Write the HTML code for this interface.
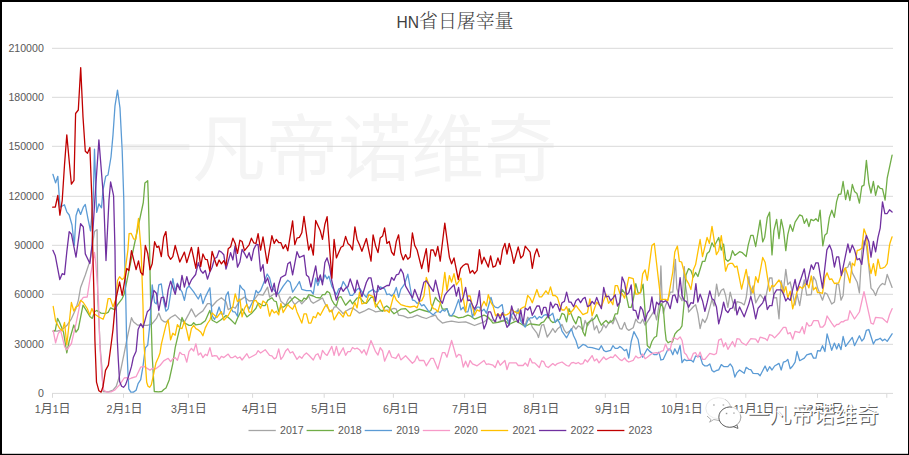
<!DOCTYPE html>
<html lang="zh"><head><meta charset="utf-8"><title>HN省日屠宰量</title>
<style>
html,body{margin:0;padding:0;background:#fff;}
body{width:909px;height:455px;overflow:hidden;}
svg{display:block;}
text{font-family:"Liberation Sans","Noto Sans CJK SC",sans-serif;}
.ax{font-size:10.6px;fill:#595959;}
.xl{font-size:12px;fill:#595959;}
.d{font-size:10.6px;}
.ln{fill:none;stroke-width:1.3;stroke-linejoin:round;stroke-linecap:round;}
.ttl{font-family:"Liberation Sans","Noto Serif CJK SC",serif;fill:#404040;}
.wm{font-family:"Noto Sans CJK SC","Liberation Sans",sans-serif;}
</style></head><body>
<svg width="909" height="455" viewBox="0 0 909 455">
<rect x="0" y="0" width="909" height="455" fill="#fff"/>
<text class="wm" x="119.3" y="175.2" font-size="73" fill="#f4f4f4" font-weight="400">一凡帝诺维奇</text>
<line x1="52" y1="393.4" x2="893" y2="393.4" stroke="#d9d9d9" stroke-width="1"/>
<text class="ax" x="43.8" y="397.2" text-anchor="end">0</text>
<line x1="52" y1="344.3" x2="893" y2="344.3" stroke="#d9d9d9" stroke-width="1"/>
<text class="ax" x="43.8" y="348.1" text-anchor="end">30000</text>
<line x1="52" y1="294.3" x2="893" y2="294.3" stroke="#d9d9d9" stroke-width="1"/>
<text class="ax" x="43.8" y="298.1" text-anchor="end">60000</text>
<line x1="52" y1="245.3" x2="893" y2="245.3" stroke="#d9d9d9" stroke-width="1"/>
<text class="ax" x="43.8" y="249.2" text-anchor="end">90000</text>
<line x1="52" y1="196.3" x2="893" y2="196.3" stroke="#d9d9d9" stroke-width="1"/>
<text class="ax" x="43.8" y="200.1" text-anchor="end">120000</text>
<line x1="52" y1="146.3" x2="893" y2="146.3" stroke="#d9d9d9" stroke-width="1"/>
<text class="ax" x="43.8" y="150.1" text-anchor="end">150000</text>
<line x1="52" y1="97.3" x2="893" y2="97.3" stroke="#d9d9d9" stroke-width="1"/>
<text class="ax" x="43.8" y="101.1" text-anchor="end">180000</text>
<line x1="52" y1="48.3" x2="893" y2="48.3" stroke="#d9d9d9" stroke-width="1"/>
<text class="ax" x="43.8" y="52.1" text-anchor="end">210000</text>
<line x1="52.5" y1="393.5" x2="52.5" y2="397.8" stroke="#d9d9d9" stroke-width="1"/>
<line x1="123.5" y1="393.5" x2="123.5" y2="397.8" stroke="#d9d9d9" stroke-width="1"/>
<line x1="188.4" y1="393.5" x2="188.4" y2="397.8" stroke="#d9d9d9" stroke-width="1"/>
<line x1="252.6" y1="393.5" x2="252.6" y2="397.8" stroke="#d9d9d9" stroke-width="1"/>
<line x1="324.2" y1="393.5" x2="324.2" y2="397.8" stroke="#d9d9d9" stroke-width="1"/>
<line x1="393.4" y1="393.5" x2="393.4" y2="397.8" stroke="#d9d9d9" stroke-width="1"/>
<line x1="464.6" y1="393.5" x2="464.6" y2="397.8" stroke="#d9d9d9" stroke-width="1"/>
<line x1="533.4" y1="393.5" x2="533.4" y2="397.8" stroke="#d9d9d9" stroke-width="1"/>
<line x1="605.3" y1="393.5" x2="605.3" y2="397.8" stroke="#d9d9d9" stroke-width="1"/>
<line x1="676.2" y1="393.5" x2="676.2" y2="397.8" stroke="#d9d9d9" stroke-width="1"/>
<line x1="745.8" y1="393.5" x2="745.8" y2="397.8" stroke="#d9d9d9" stroke-width="1"/>
<line x1="817.5" y1="393.5" x2="817.5" y2="397.8" stroke="#d9d9d9" stroke-width="1"/>
<line x1="886.8" y1="393.5" x2="886.8" y2="397.8" stroke="#d9d9d9" stroke-width="1"/>
<text class="xl" x="52.7" y="413.3" text-anchor="middle"><tspan class="d">1</tspan>月<tspan class="d">1</tspan>日</text>
<text class="xl" x="124.5" y="413.3" text-anchor="middle"><tspan class="d">2</tspan>月<tspan class="d">1</tspan>日</text>
<text class="xl" x="188.8" y="413.3" text-anchor="middle"><tspan class="d">3</tspan>月<tspan class="d">1</tspan>日</text>
<text class="xl" x="259.8" y="413.3" text-anchor="middle"><tspan class="d">4</tspan>月<tspan class="d">1</tspan>日</text>
<text class="xl" x="329.2" y="413.3" text-anchor="middle"><tspan class="d">5</tspan>月<tspan class="d">1</tspan>日</text>
<text class="xl" x="400.8" y="413.3" text-anchor="middle"><tspan class="d">6</tspan>月<tspan class="d">1</tspan>日</text>
<text class="xl" x="469.9" y="413.3" text-anchor="middle"><tspan class="d">7</tspan>月<tspan class="d">1</tspan>日</text>
<text class="xl" x="541.3" y="413.3" text-anchor="middle"><tspan class="d">8</tspan>月<tspan class="d">1</tspan>日</text>
<text class="xl" x="612.9" y="413.3" text-anchor="middle"><tspan class="d">9</tspan>月<tspan class="d">1</tspan>日</text>
<text class="xl" x="681.8" y="413.3" text-anchor="middle"><tspan class="d">10</tspan>月<tspan class="d">1</tspan>日</text>
<text class="xl" x="754.1" y="413.3" text-anchor="middle"><tspan class="d">11</tspan>月<tspan class="d">1</tspan>日</text>
<text class="xl" x="822.5" y="413.3" text-anchor="middle"><tspan class="d">12</tspan>月<tspan class="d">1</tspan>日</text>
<polyline class="ln" stroke="#A5A5A5" points="53.2,331.2 57.5,331.2 62.2,329.6 66.8,325.6 71.4,318.8 76.0,308.5 78.3,300.6 80.6,287.5 85.3,275.0 89.9,261.1 94.5,231.6 97.1,229.6 97.8,300.0 100.4,350.0 101.8,366.4 103.1,391.5 108.4,391.9 113.0,390.2 116.3,386.2 119.6,375.6 124.2,353.2 126.8,340.0 131.5,317.7 133.4,321.7 137.4,325.0 142.7,325.4 147.3,325.4 151.9,324.0 156.5,318.4 158.8,313.1 161.3,319.5 163.7,321.5 165.9,322.1 170.6,317.5 175.2,314.9 179.8,319.5 184.4,322.1 189.0,313.6 191.4,308.9 195.6,316.9 198.3,314.2 202.9,310.9 207.5,303.7 209.9,303.7 212.1,306.3 216.8,301.0 221.4,297.7 226.0,301.7 228.2,309.6 232.9,307.0 235.2,308.3 239.9,300.4 244.5,297.1 249.1,301.0 253.7,300.4 258.1,294.4 263.0,295.1 267.6,287.2 269.6,297.1 274.2,293.8 278.7,294.7 280.9,301.3 285.6,305.3 287.8,300.0 290.2,296.7 292.6,301.3 294.8,304.6 299.4,300.6 301.8,303.9 306.4,298.7 308.7,296.0 310.9,301.3 313.3,303.3 317.9,300.6 322.5,298.0 324.9,303.3 329.5,310.5 331.8,311.9 334.1,307.2 336.4,306.6 341.0,311.2 343.2,313.8 345.6,311.2 350.2,308.6 352.5,307.9 357.1,311.2 359.5,313.2 364.1,311.2 368.7,308.6 373.1,310.5 375.6,311.9 380.2,311.2 384.6,310.5 389.2,309.9 394.0,308.3 396.3,309.2 398.6,315.2 403.2,315.8 407.8,317.8 412.4,317.1 417.1,315.2 421.7,317.1 426.3,318.5 430.9,316.5 435.5,315.2 437.8,319.1 442.4,323.1 447.0,321.8 451.6,321.1 458.6,322.4 465.6,321.8 470.1,323.7 474.5,325.5 479.4,323.7 484.0,322.0 488.3,318.5 493.0,320.5 497.9,322.5 500.2,321.0 504.9,320.0 507.0,319.2 509.2,321.9 511.6,315.9 513.8,320.5 516.2,315.3 518.2,308.7 520.8,319.9 525.2,325.2 527.7,317.2 530.1,320.5 532.3,327.1 536.9,333.1 538.5,337.5 541.6,325.2 543.7,324.5 547.2,337.0 550.5,332.4 552.8,328.5 555.2,332.4 557.4,329.1 559.8,327.1 562.0,324.5 564.4,330.4 566.6,333.1 571.4,329.8 573.6,325.8 575.9,329.1 578.3,325.8 580.6,327.1 582.9,330.4 585.1,320.5 587.5,325.8 589.9,321.9 592.1,317.9 594.4,329.8 596.7,325.8 599.0,333.1 601.4,330.4 603.7,324.5 606.0,327.8 608.6,323.2 610.6,320.5 612.9,323.8 615.2,317.2 617.5,322.5 619.9,328.5 622.0,329.1 624.6,322.5 626.6,328.5 628.8,330.4 633.2,327.8 635.8,319.2 638.1,322.5 640.5,323.2 642.7,319.2 645.1,325.2 649.7,317.9 654.3,310.6 656.6,319.9 659.6,301.4 660.9,265.9 662.2,301.4 663.3,313.3 665.5,305.4 667.8,300.1 670.2,292.2 672.8,292.2 675.4,259.3 676.8,288.2 678.7,294.8 682.0,300.7 684.3,266.6 685.3,284.2 687.3,297.4 688.6,312.0 693.3,306.7 695.6,304.7 697.9,313.9 700.1,328.5 702.5,319.2 704.9,322.5 707.1,317.9 712.0,299.4 714.0,306.0 716.6,284.2 718.7,296.1 721.3,290.2 723.6,288.9 725.6,295.5 727.9,307.3 730.2,292.2 734.9,310.6 737.0,301.6 741.6,302.9 744.2,304.9 746.2,297.8 748.9,276.7 750.8,295.2 753.1,285.9 755.7,302.9 760.1,294.5 765.1,300.9 769.6,278.0 772.0,278.0 773.9,297.8 776.6,297.6 779.0,318.8 781.2,280.6 783.4,291.2 785.8,269.4 787.8,284.6 790.2,282.0 792.7,293.8 795.1,305.0 797.0,293.8 799.7,305.6 802.3,289.2 804.3,280.0 806.7,295.2 811.3,294.5 813.5,276.7 815.9,280.6 817.6,288.1 822.5,300.2 824.9,292.7 827.1,294.0 831.7,304.1 834.4,302.1 836.7,284.2 838.7,284.2 841.0,300.2 843.1,295.4 845.3,268.3 847.9,267.0 849.9,261.7 852.3,272.9 857.2,282.2 859.4,292.9 861.8,251.2 864.0,240.7 866.4,245.9 868.8,266.4 871.0,288.1 873.4,290.7 875.6,295.5 878.0,288.8 880.2,285.5 882.5,283.5 884.9,284.8 887.2,274.5 892.1,287.4"/>
<polyline class="ln" stroke="#70AD47" points="53.2,331.2 55.3,330.3 57.5,318.4 59.5,322.3 63.5,332.2 66.8,352.9 69.2,341.0 73.8,325.0 76.0,332.2 78.3,329.0 83.0,305.2 87.2,311.8 89.9,316.4 92.3,318.4 94.5,311.8 96.7,310.5 101.1,313.1 105.7,313.5 108.1,312.4 110.6,307.8 115.0,309.8 117.3,305.2 122.2,298.6 124.2,294.0 133.2,250.0 143.3,202.5 144.9,182.9 147.7,180.7 148.4,200.0 149.6,250.0 150.6,300.0 152.2,355.8 154.3,391.5 158.5,391.9 161.8,391.5 163.8,389.5 166.0,388.0 169.2,380.0 172.8,363.6 175.2,347.7 179.8,327.9 182.0,317.5 184.4,322.8 189.0,325.4 191.4,325.4 193.7,322.8 195.6,324.8 200.7,324.1 205.3,320.8 209.9,310.3 212.1,320.2 216.8,322.8 221.4,319.5 226.0,315.5 230.6,319.5 235.2,324.1 237.5,318.2 242.1,308.9 246.9,316.9 251.4,313.6 256.0,308.3 258.1,303.0 263.0,305.6 265.2,305.6 267.6,300.4 271.9,297.7 274.2,301.0 276.3,301.7 278.7,311.9 280.9,306.6 283.2,307.2 287.8,303.9 292.6,298.7 294.8,296.7 299.4,300.0 301.8,301.3 304.0,298.0 306.4,299.1 308.7,294.7 313.3,296.0 315.7,297.3 320.3,298.0 322.5,294.7 324.9,294.7 327.1,291.4 329.5,292.7 331.8,300.0 334.1,303.9 336.4,305.9 338.8,297.3 341.0,296.7 345.6,305.3 350.2,300.0 352.5,303.9 357.1,298.0 359.5,297.3 364.1,302.6 366.4,303.3 371.0,297.3 373.1,297.3 375.6,303.9 380.2,309.9 382.6,311.2 384.6,307.2 386.9,305.9 389.2,307.9 391.6,311.2 394.0,313.8 396.3,312.3 400.8,309.2 405.6,308.6 410.1,313.2 414.7,311.2 419.3,309.2 423.9,310.5 428.5,311.9 430.9,310.5 435.5,297.3 437.8,300.6 440.2,302.6 442.4,309.2 444.8,309.2 447.0,308.6 449.4,315.8 454.0,315.8 458.6,317.8 463.3,317.1 467.9,315.2 470.1,315.8 474.5,319.1 479.4,317.1 484.0,315.2 488.3,317.1 493.0,323.1 497.9,322.4 502.5,321.1 505.0,320.5 507.0,322.5 509.2,324.5 511.6,323.2 516.2,321.2 520.8,323.8 525.2,326.5 530.1,323.8 534.7,324.5 539.3,325.2 541.6,322.5 543.7,321.9 548.3,315.3 550.5,320.5 552.8,322.5 555.2,321.9 557.4,320.5 559.8,319.2 562.0,313.3 564.4,314.6 566.6,321.9 569.0,308.7 571.4,314.6 573.6,319.9 575.9,323.8 578.3,316.6 580.6,317.9 582.9,331.8 585.1,336.0 587.5,323.2 589.9,321.2 592.1,320.5 594.4,318.6 596.7,314.6 599.0,320.5 601.4,325.2 603.7,322.5 606.0,320.5 608.6,323.2 612.9,320.5 615.2,313.9 617.5,313.9 619.9,300.7 622.0,289.5 624.6,292.8 626.6,296.8 628.8,307.3 631.2,307.3 633.2,300.1 635.8,283.6 638.1,292.8 640.5,292.8 643.1,284.2 645.1,312.0 647.3,345.5 649.7,348.1 651.9,341.5 654.3,337.5 656.6,336.2 658.9,314.6 660.9,303.4 663.3,308.0 665.0,330.0 666.2,340.2 668.2,342.8 670.2,341.5 672.4,342.2 674.8,334.2 677.4,331.0 680.1,329.0 682.0,325.8 684.3,300.7 686.0,275.0 688.6,268.6 690.9,270.5 693.3,277.1 695.6,272.5 697.9,276.5 702.5,261.3 704.9,261.3 707.1,253.4 709.4,251.4 712.0,242.8 714.0,246.8 718.7,237.5 721.3,250.1 723.6,244.1 725.6,259.3 727.9,261.3 730.2,259.3 732.5,250.7 734.9,255.4 739.6,251.7 742.3,252.7 746.2,256.5 748.2,245.2 750.8,235.3 753.1,235.3 755.7,246.5 760.1,220.1 762.7,241.9 764.7,237.2 767.3,217.4 769.6,212.2 772.0,254.9 773.9,230.6 776.6,219.4 779.0,238.6 781.2,219.4 783.4,229.3 785.8,250.6 787.8,234.6 790.2,224.7 792.7,231.3 795.1,222.1 799.7,214.8 802.3,216.1 804.3,223.4 806.7,218.8 808.9,226.7 810.9,219.4 813.5,220.7 815.9,218.8 818.2,221.4 820.1,210.2 822.8,245.8 824.8,235.3 827.0,233.3 829.4,217.4 831.8,210.2 834.3,217.4 836.6,201.6 838.7,194.3 841.0,194.0 843.1,181.5 845.6,199.5 847.7,190.1 849.9,200.5 852.3,184.5 854.5,191.4 856.9,193.4 859.4,203.2 861.8,186.4 864.0,185.1 866.4,160.4 868.8,183.5 871.0,193.0 873.4,181.5 875.6,195.3 878.0,185.7 880.2,188.4 882.5,188.8 885.1,200.0 887.2,178.2 892.1,155.2"/>
<polyline class="ln" stroke="#5B9BD5" points="52.9,174.3 55.6,182.9 57.8,176.3 59.5,200.0 60.2,207.2 64.4,204.8 66.8,211.8 69.2,215.0 72.0,225.0 74.3,245.4 76.0,215.7 78.3,208.5 80.6,214.4 83.3,207.2 85.3,204.5 87.9,218.4 90.5,230.9 93.2,200.0 94.5,149.2 96.7,212.4 98.9,203.9 101.5,207.8 103.0,190.0 105.7,176.3 108.0,175.0 111.0,157.0 113.0,134.9 115.0,105.8 117.5,90.2 120.0,108.2 122.2,151.0 123.8,200.0 124.5,250.0 125.8,300.0 126.6,340.0 127.9,371.7 128.8,388.8 130.8,392.1 133.4,392.1 136.1,390.2 138.1,383.6 140.7,379.6 143.0,366.4 145.3,347.9 147.7,345.3 150.0,323.0 151.3,300.0 152.2,284.9 154.6,302.5 156.5,303.9 158.8,284.9 161.3,283.9 163.7,301.7 165.9,311.2 168.2,308.9 170.6,293.8 172.8,278.6 175.2,291.1 177.4,283.2 179.8,288.5 182.0,291.8 184.4,300.4 186.8,288.5 189.0,285.8 193.7,291.8 198.3,299.0 200.7,293.8 202.9,303.7 205.3,297.1 209.9,287.8 212.1,315.5 214.5,319.5 216.8,314.2 219.1,307.0 221.4,314.2 223.8,314.2 226.0,295.7 228.2,291.8 230.6,307.6 232.9,311.6 235.2,312.2 237.5,316.2 239.9,285.2 242.1,288.5 244.5,290.5 246.9,305.0 249.1,308.9 251.4,304.3 253.7,299.7 256.0,290.5 258.1,293.1 260.6,290.5 263.6,283.2 267.2,274.0 269.6,277.9 271.9,287.2 276.4,293.1 278.7,293.4 283.2,286.1 287.8,280.2 290.2,282.2 292.6,292.1 297.0,285.5 299.4,281.5 301.8,289.4 306.4,290.7 310.9,290.7 313.3,294.0 315.7,278.2 317.9,285.5 320.3,278.2 322.5,282.2 324.9,274.9 327.1,278.9 328.9,276.2 331.8,286.1 336.4,294.7 338.8,288.8 341.0,288.1 343.2,281.5 347.9,289.4 350.2,295.4 352.5,295.4 357.1,289.4 359.5,288.1 364.1,294.7 366.4,297.3 368.7,292.1 373.1,289.4 375.6,292.1 378.0,291.4 380.2,286.8 384.6,288.8 386.9,294.7 389.2,294.0 391.6,296.0 394.0,293.4 396.3,287.4 398.6,297.3 400.8,289.4 404.5,284.1 407.8,274.2 412.4,300.0 414.7,300.6 417.1,303.3 419.3,302.6 421.7,305.9 423.9,304.6 428.5,311.2 433.3,314.9 435.5,312.5 437.8,311.2 440.2,312.5 442.4,309.9 444.8,311.2 447.0,308.6 449.4,315.2 451.6,315.8 454.0,312.5 458.6,299.6 460.9,309.9 463.3,307.2 465.6,311.9 467.9,311.9 470.1,303.3 472.5,317.1 474.5,311.2 477.1,307.2 479.4,307.2 481.7,311.2 484.0,309.2 486.4,313.2 491.0,297.3 493.0,304.6 495.2,307.2 497.9,307.9 502.2,304.6 503.5,312.5 504.9,319.1 507.0,317.9 509.2,325.2 511.6,314.6 513.8,312.0 518.2,310.6 520.8,321.2 525.2,327.1 527.7,320.5 530.1,317.9 532.3,317.9 534.7,315.9 536.9,319.2 539.3,316.6 541.6,317.9 543.7,315.3 545.9,314.6 548.3,315.9 550.5,315.3 552.8,313.3 555.2,322.5 557.4,319.2 559.8,323.3 562.0,331.2 566.6,337.8 571.4,328.6 573.6,335.8 575.9,340.5 578.3,348.4 582.9,344.4 585.1,345.1 587.5,347.1 592.1,347.7 599.0,349.7 601.4,345.7 603.7,350.4 606.0,351.7 610.6,350.4 612.9,345.7 615.2,348.4 617.5,348.4 619.9,346.4 622.0,348.1 624.6,350.7 626.6,349.4 628.8,358.0 631.2,341.5 633.9,331.6 638.1,339.5 640.5,353.4 642.7,357.3 647.3,348.8 649.7,351.4 654.3,354.7 656.6,354.7 658.9,352.1 660.9,360.0 663.3,359.3 667.8,349.4 670.2,348.8 672.8,354.7 674.8,348.8 677.4,354.0 680.1,345.5 682.0,362.6 684.3,359.3 686.4,360.6 690.9,360.0 693.3,362.0 695.6,356.0 697.9,356.7 700.1,356.0 702.5,363.9 704.9,365.9 707.1,365.9 709.8,363.9 712.0,370.5 714.0,371.9 716.4,370.5 718.7,369.9 721.3,364.6 723.6,366.6 727.9,366.6 730.2,363.9 732.5,367.2 734.9,377.1 737.0,372.6 739.6,370.0 744.2,373.3 746.2,367.3 748.9,369.3 750.8,369.6 753.1,373.3 758.1,373.7 760.1,375.7 765.1,366.0 767.3,371.3 769.6,366.7 772.0,370.0 774.6,366.0 779.0,363.4 781.2,370.0 783.4,362.1 785.8,361.4 787.8,359.4 790.2,368.7 792.7,366.0 795.1,362.1 797.0,351.5 799.7,360.7 804.3,358.1 806.7,354.8 811.3,353.5 813.5,358.1 815.9,358.1 817.6,350.6 820.3,351.0 822.5,345.7 824.9,351.6 827.1,333.8 831.7,350.3 834.4,343.1 836.7,349.0 838.7,343.7 841.0,349.7 843.1,336.5 845.6,346.4 852.3,337.4 854.5,345.7 859.4,335.8 861.8,341.1 864.0,338.5 866.4,330.3 868.8,329.5 873.4,344.0 875.6,340.0 878.0,339.5 880.2,338.2 882.5,340.8 884.9,339.1 887.2,341.4 892.1,333.8"/>
<polyline class="ln" stroke="#F79AC8" points="53.2,330.3 55.6,342.8 58.2,333.6 60.6,330.3 64.8,347.0 66.8,349.9 71.4,343.5 76.0,323.7 80.6,301.2 83.3,297.4 87.2,297.0 90.5,275.6 94.5,252.5 95.8,263.8 98.5,300.0 99.8,345.0 101.8,374.3 103.7,390.2 107.0,392.1 111.0,391.9 115.0,389.9 119.6,384.9 124.2,378.0 126.8,377.6 129.5,379.0 131.5,378.0 136.1,376.7 140.7,367.1 144.0,366.4 150.0,370.1 152.6,368.4 155.9,368.8 160.0,365.5 163.7,360.9 168.2,358.3 170.6,361.6 172.8,358.9 175.2,357.6 177.4,360.3 179.8,352.3 182.0,354.3 184.4,354.6 186.8,362.2 189.0,351.7 191.4,348.4 193.7,351.0 195.9,343.8 198.3,355.0 200.7,353.0 202.9,357.6 205.3,354.3 207.3,355.6 209.9,347.7 212.1,356.3 214.5,355.6 216.8,355.9 219.1,359.6 221.4,356.3 223.8,357.6 228.2,354.1 230.6,357.6 232.9,357.6 235.2,355.9 237.5,358.3 239.9,357.0 242.1,360.0 246.9,353.7 249.1,358.0 256.0,354.3 258.1,350.6 260.6,353.0 265.2,349.7 269.6,355.4 271.9,355.9 274.2,358.9 276.3,357.6 278.7,348.8 280.9,359.3 283.2,356.3 285.6,351.0 287.8,348.8 290.2,353.0 292.6,351.7 297.0,359.3 299.4,356.3 301.8,358.3 304.0,355.0 306.4,353.0 308.7,355.0 313.3,360.0 315.7,355.0 317.9,353.7 320.3,359.3 322.5,350.4 324.9,353.7 327.1,355.4 331.8,346.4 334.1,355.4 336.4,346.4 338.8,355.6 343.2,347.7 345.6,355.4 347.9,351.7 350.2,351.7 352.5,347.5 354.9,349.0 357.1,348.1 359.5,349.7 361.9,353.0 364.1,349.7 366.4,355.0 371.0,340.5 375.6,351.7 378.0,355.0 380.2,347.7 382.6,351.0 384.6,361.2 389.2,350.6 391.6,357.0 395.9,358.3 398.6,353.9 400.8,359.9 405.6,355.7 412.4,363.2 414.7,361.2 417.1,355.9 419.3,360.5 423.9,360.5 426.3,365.8 430.9,358.3 433.3,358.3 437.8,369.1 442.4,352.6 444.8,352.6 447.0,357.2 451.6,340.5 456.4,357.2 458.6,354.3 460.9,355.3 463.3,367.1 465.6,361.2 467.9,367.1 470.1,360.5 472.5,363.8 477.1,365.8 484.0,360.5 486.4,364.5 488.3,363.8 493.0,365.2 495.2,367.5 497.9,360.5 500.2,365.2 504.9,360.5 507.0,369.5 509.2,362.9 516.2,362.9 518.2,365.5 523.1,365.5 525.2,362.9 527.7,366.2 530.1,358.3 532.3,362.9 534.7,362.9 539.3,367.5 541.6,360.9 543.7,361.6 545.9,366.2 548.3,367.5 552.8,363.6 555.2,365.5 557.4,363.6 562.0,362.0 566.6,365.5 569.0,366.2 571.4,362.9 573.6,362.5 575.9,363.6 578.3,362.5 580.6,364.2 582.9,363.6 585.1,359.6 587.5,362.0 592.1,355.6 594.4,360.9 596.7,358.9 599.0,362.9 603.7,357.0 606.0,359.6 610.6,357.0 612.9,357.6 615.2,354.7 619.9,359.6 622.0,360.6 624.6,358.0 626.6,360.6 628.8,362.0 633.2,360.4 635.8,356.0 638.1,358.0 640.5,357.3 642.7,354.0 645.1,358.7 647.3,357.3 651.9,353.4 656.6,352.7 658.9,353.4 660.9,351.4 663.3,350.7 665.5,344.1 668.2,350.7 670.2,349.4 672.8,338.2 674.8,338.2 677.4,339.5 680.1,336.9 682.0,340.2 684.3,352.7 686.4,354.7 688.6,359.3 690.9,359.3 693.3,353.4 695.6,352.7 697.9,357.3 700.1,352.1 702.5,359.3 704.9,359.3 709.8,353.4 714.0,354.7 716.4,353.4 718.7,340.2 721.3,338.9 723.6,346.8 725.6,342.8 727.9,349.4 732.5,341.5 734.9,346.8 737.0,338.6 739.6,339.2 741.6,342.5 746.2,345.2 750.8,338.6 755.7,339.2 758.1,342.5 760.1,337.2 765.1,338.6 767.3,340.5 769.6,334.6 772.0,335.3 774.6,337.9 779.0,333.3 783.4,327.3 785.8,327.3 787.8,333.9 790.2,332.6 792.7,339.2 795.1,331.3 799.7,332.6 802.3,326.7 804.3,333.9 806.7,322.7 808.9,326.0 811.3,325.4 813.5,320.7 818.2,320.7 820.3,327.2 822.5,327.2 824.9,324.5 827.1,316.0 831.7,323.2 834.4,326.9 836.7,324.5 838.7,324.3 841.4,321.6 843.1,321.9 845.3,320.3 847.9,319.9 849.9,310.7 854.5,319.0 859.4,312.0 864.0,291.6 871.0,323.2 873.4,324.1 875.6,317.3 882.5,318.2 887.2,322.6 889.5,314.7 892.1,308.7"/>
<polyline class="ln" stroke="#FFC000" points="53.2,306.5 55.6,321.0 59.5,328.3 62.2,330.9 64.5,322.3 66.8,344.8 69.2,323.0 71.4,302.5 73.8,311.1 76.0,306.9 78.3,305.8 80.6,300.3 83.3,302.5 87.2,308.5 89.9,315.0 91.9,308.5 94.1,313.8 98.9,317.0 103.1,319.3 105.7,312.4 108.1,298.6 110.3,298.6 113.0,306.9 115.6,300.0 117.6,280.3 119.6,276.7 122.2,279.6 124.2,277.6 127.9,250.0 129.1,233.6 131.1,233.3 133.7,239.1 135.8,239.1 138.5,218.4 139.4,229.6 141.1,250.0 142.0,275.6 143.0,305.8 143.7,340.0 145.1,359.8 146.7,382.2 148.0,386.2 149.6,387.3 151.3,384.9 153.3,375.6 155.9,363.1 158.5,357.2 160.0,353.0 161.3,344.4 165.9,325.3 168.2,320.0 170.6,339.8 172.8,333.2 175.2,335.2 177.4,324.6 179.8,327.9 182.0,328.6 184.4,321.3 186.8,330.6 189.0,340.5 191.4,328.6 193.7,325.3 195.9,328.6 198.3,329.9 200.7,331.9 202.9,335.8 205.3,327.9 207.5,323.5 209.9,320.0 212.1,312.9 216.8,317.5 221.4,311.6 223.8,320.2 228.2,315.5 232.9,306.3 235.2,293.8 237.5,301.7 239.9,299.0 242.1,316.9 244.5,308.3 246.9,304.3 249.1,312.2 251.4,312.2 253.7,301.0 256.0,300.4 260.6,308.3 263.0,301.0 267.2,304.3 269.6,316.2 271.9,309.6 274.2,312.9 276.3,311.2 278.7,314.9 280.9,303.3 283.2,312.5 287.8,304.6 290.2,307.2 292.6,309.2 294.8,304.6 297.0,311.9 301.8,323.1 304.0,313.8 306.4,313.8 308.7,323.1 310.9,323.1 313.3,316.5 315.7,317.8 317.9,312.5 320.3,315.2 324.9,306.6 327.1,304.6 329.5,311.9 331.8,309.9 334.1,319.8 338.8,311.9 343.2,317.1 345.6,311.2 347.9,315.8 350.2,315.8 354.9,302.6 357.1,307.9 359.5,292.1 361.9,303.9 366.4,302.6 368.7,294.7 373.1,296.7 375.6,307.2 380.2,300.0 384.6,311.2 386.9,310.5 389.2,312.5 391.6,303.3 394.0,294.7 396.3,300.0 400.8,304.6 405.6,306.2 410.1,307.0 414.7,306.2 417.1,307.9 419.3,301.3 421.7,300.6 423.9,296.0 426.3,277.5 428.5,283.5 430.9,303.9 433.3,308.6 435.5,309.2 437.8,311.9 440.2,303.3 442.4,291.4 444.8,272.3 447.0,290.7 449.4,275.6 451.6,282.2 454.0,273.6 456.4,284.8 460.9,278.2 463.3,298.7 465.6,311.9 467.9,296.0 470.1,296.0 474.5,315.2 477.1,309.9 479.4,311.2 484.0,301.3 486.4,305.9 488.3,294.7 491.0,302.6 493.0,305.9 495.6,315.8 497.9,313.8 500.2,315.8 502.5,313.2 504.9,315.2 507.0,314.6 509.2,313.3 511.6,308.7 513.8,311.3 518.2,313.3 520.8,308.7 523.1,307.3 525.2,306.7 527.7,295.5 530.1,298.1 532.3,302.7 536.9,289.5 539.3,296.8 541.6,296.8 545.9,290.8 548.3,294.1 550.5,286.9 552.8,295.5 555.2,295.5 557.4,297.4 559.8,305.4 562.0,310.0 564.4,310.0 566.6,306.7 569.0,314.6 573.6,309.3 575.9,305.4 578.3,308.7 582.9,314.6 587.5,312.6 589.9,298.8 592.1,315.9 594.4,308.7 596.7,302.1 599.0,304.7 601.4,306.7 606.0,294.1 608.6,303.4 610.6,300.7 612.9,304.7 615.2,285.6 617.5,285.6 619.9,293.5 622.0,293.5 624.6,298.1 626.6,288.2 628.8,277.3 633.2,278.7 635.8,294.1 638.1,294.1 640.5,292.2 642.7,273.8 645.1,269.9 647.3,280.4 651.9,245.5 654.3,243.5 658.9,283.5 660.9,300.1 663.3,299.4 665.5,299.4 667.8,300.7 670.2,287.0 672.8,272.0 674.8,252.1 677.4,246.1 679.4,261.3 681.6,262.0 686.0,279.0 688.6,283.6 690.9,289.5 692.6,279.0 693.3,269.9 695.6,264.6 700.1,239.5 702.5,256.7 707.1,237.5 709.4,243.5 712.0,226.3 716.4,254.7 718.7,250.7 721.3,235.6 725.6,271.2 727.9,264.6 730.2,263.3 732.5,263.3 734.9,267.2 737.0,266.1 741.6,289.2 746.2,269.4 748.2,282.0 753.1,293.2 755.7,276.7 758.1,282.6 762.7,257.5 765.1,262.2 769.6,291.2 772.0,285.3 773.9,286.6 779.0,280.0 781.2,283.9 783.4,293.8 785.8,286.6 787.8,297.8 790.2,291.2 792.7,308.9 797.0,291.9 799.7,286.6 802.3,288.6 806.7,282.6 808.9,287.9 811.3,276.0 813.5,289.9 815.9,287.2 817.6,292.7 820.3,292.7 822.5,293.4 824.9,277.6 827.1,272.9 829.5,279.5 831.7,278.9 834.4,283.5 838.7,282.8 841.4,274.9 845.3,267.7 847.9,275.6 849.9,282.8 852.3,263.1 854.5,265.7 857.2,250.5 859.4,249.9 861.8,248.3 864.0,228.9 866.4,235.5 867.7,249.8 868.8,262.4 871.0,273.6 873.4,263.7 875.6,275.6 878.0,259.1 880.2,268.3 882.5,268.1 884.9,267.0 887.2,263.7 889.5,245.3 890.1,242.7 892.1,236.8"/>
<polyline class="ln" stroke="#7030A0" points="52.9,250.3 55.3,255.8 59.8,279.6 62.2,273.7 64.5,274.6 66.8,251.9 69.2,231.6 71.4,234.2 76.0,257.2 80.6,223.7 83.3,227.0 85.3,253.9 89.9,263.5 92.0,245.0 94.5,205.0 96.7,172.3 98.9,139.9 101.3,170.0 103.7,200.0 106.0,260.5 107.0,240.0 109.0,200.0 110.6,182.0 113.0,192.8 113.6,196.0 115.0,250.0 115.3,275.6 116.0,300.0 117.3,340.0 118.3,359.8 119.6,381.6 121.6,386.2 123.5,387.3 125.5,384.9 128.8,375.6 131.5,366.4 133.4,357.2 136.1,351.2 138.1,329.6 140.7,323.7 143.0,327.6 147.3,311.8 150.0,309.1 153.9,290.3 156.5,293.5 158.8,310.5 161.3,297.7 163.7,297.1 165.9,307.0 168.2,289.8 170.6,281.2 172.8,287.2 175.2,294.4 177.4,283.9 179.8,289.8 182.0,275.3 184.4,287.2 186.8,276.6 189.0,285.2 191.4,279.9 195.6,274.5 198.3,262.6 200.7,270.5 202.9,273.2 205.3,270.5 207.5,279.1 209.9,271.9 212.1,267.2 214.5,258.7 216.8,257.3 219.1,250.7 221.4,252.1 223.8,254.7 226.0,269.2 228.2,261.3 230.6,252.7 232.9,260.0 235.0,246.1 237.5,267.2 239.9,262.0 242.1,249.4 244.5,253.4 246.9,258.0 249.1,252.7 251.4,260.6 253.7,249.4 256.0,244.8 258.1,244.5 260.6,271.2 263.0,264.6 265.2,283.2 267.6,277.9 269.6,285.2 271.9,291.8 274.2,283.2 276.3,296.7 278.7,284.8 280.9,277.5 285.6,274.9 287.8,263.8 290.2,261.9 292.6,274.9 297.0,251.7 299.4,257.5 304.0,255.3 306.4,274.9 308.7,276.9 310.9,286.8 315.7,265.8 317.9,281.5 320.3,274.9 322.5,284.8 324.9,262.5 327.1,257.9 329.5,266.3 331.8,280.8 336.4,300.0 338.8,293.4 341.0,287.4 343.2,291.4 345.6,288.1 347.9,286.8 350.2,278.9 354.9,292.7 357.1,280.2 359.5,288.1 361.9,296.7 366.4,282.2 368.7,277.9 371.0,277.9 375.6,301.3 378.0,285.5 380.2,289.4 382.6,288.1 386.9,285.5 389.2,285.5 391.6,277.5 394.0,280.2 396.3,274.9 398.6,274.2 400.8,269.0 403.2,273.6 405.6,286.1 412.4,298.0 414.7,289.4 419.3,301.3 423.9,282.2 426.3,280.8 433.3,291.4 435.5,280.2 440.2,300.0 442.4,303.3 444.8,295.4 447.0,292.1 454.0,284.8 456.4,296.0 458.6,287.4 460.9,302.0 463.3,297.3 465.6,287.4 467.9,300.6 470.1,300.0 474.5,309.2 477.1,303.9 479.4,290.7 481.7,316.5 484.0,328.9 486.4,323.1 488.3,311.9 490.6,311.9 493.0,318.5 495.2,321.8 497.9,313.8 500.2,319.1 502.5,312.5 504.9,320.4 507.0,327.3 509.2,324.5 511.6,306.0 513.8,313.9 518.2,322.5 520.8,310.0 523.1,323.8 525.2,308.0 527.7,310.0 530.1,306.7 532.3,315.3 536.9,306.0 539.3,306.0 541.6,314.6 543.7,307.3 545.9,307.3 548.3,317.9 550.5,302.1 552.8,308.0 555.2,304.0 557.4,304.7 559.8,311.3 562.0,302.7 564.4,301.4 566.6,292.2 569.0,302.1 571.0,302.1 573.6,306.7 575.9,300.7 578.3,298.8 580.6,302.7 582.9,298.8 585.1,297.4 587.5,306.7 589.9,305.4 592.1,301.4 594.4,304.0 596.7,297.4 599.0,303.4 601.4,308.7 603.7,287.5 606.0,296.8 608.6,296.1 610.6,300.7 612.9,298.1 615.2,294.8 617.5,306.0 619.9,302.1 622.1,277.0 624.6,282.9 626.6,294.8 628.8,292.8 631.2,284.9 633.2,310.0 635.8,310.6 638.1,319.2 640.5,306.7 642.7,310.0 645.1,321.2 647.3,313.3 649.7,310.0 651.9,296.8 654.3,313.9 656.6,302.1 658.9,304.7 660.9,300.7 663.3,302.1 665.5,300.7 667.8,302.7 670.2,308.7 672.8,295.5 674.8,294.8 677.4,302.7 680.1,277.6 682.0,295.5 684.3,300.7 686.4,301.4 688.6,307.3 690.9,302.7 693.3,303.4 695.9,283.6 697.9,302.1 700.1,294.1 702.5,300.7 704.9,311.3 707.1,302.7 709.8,290.8 712.0,298.8 714.0,300.1 716.4,306.7 718.7,323.8 721.3,313.9 723.6,302.1 725.6,310.0 727.9,312.6 730.2,308.7 732.5,308.0 734.9,299.4 737.0,314.8 739.6,306.9 744.2,316.8 748.9,303.6 750.8,296.3 753.1,305.6 755.7,318.8 758.1,308.2 762.7,302.9 765.1,296.0 767.3,309.5 769.6,305.6 772.0,305.6 773.9,294.5 776.6,289.9 781.2,289.9 783.4,293.8 785.8,301.0 787.8,298.0 790.2,300.4 795.1,279.3 797.0,290.5 804.3,268.8 806.7,284.6 811.3,264.8 813.5,269.4 815.9,262.8 818.2,262.8 822.5,288.1 826.9,249.9 829.5,245.0 831.7,250.5 834.4,267.0 836.7,256.9 838.7,256.9 841.4,275.6 847.9,243.8 849.9,252.5 852.3,245.0 854.5,249.9 857.2,259.8 859.4,258.5 861.8,264.4 864.0,246.0 866.4,235.5 868.8,241.4 871.0,257.1 873.4,241.4 875.6,251.9 878.0,237.4 880.2,228.2 882.5,201.9 884.9,213.7 887.2,213.5 889.5,209.8 892.1,212.1"/>
<polyline class="ln" stroke="#C00000" points="52.7,207.2 55.3,207.0 57.8,195.3 59.9,215.1 62.2,200.6 64.5,165.0 66.8,134.9 69.1,160.0 71.4,184.2 74.0,180.3 75.6,113.5 78.3,110.0 80.7,67.6 83.0,117.0 85.3,151.2 87.5,153.2 89.9,147.5 91.9,200.0 92.5,240.0 94.1,300.0 94.9,340.0 96.5,382.2 98.9,390.8 101.1,392.1 103.1,386.2 105.5,370.4 108.4,365.1 111.7,340.0 113.0,329.6 115.6,300.6 119.6,282.0 122.2,295.4 126.8,268.4 128.8,270.6 131.5,250.6 136.1,269.7 138.5,260.9 140.7,272.3 143.0,275.0 145.3,245.5 147.7,253.2 150.0,269.7 152.2,263.8 154.6,241.7 157.0,247.4 158.8,246.1 161.3,256.7 163.7,236.9 165.9,231.6 168.2,255.4 170.6,259.3 172.8,256.7 175.2,245.5 179.8,262.0 184.4,252.1 186.8,262.6 191.4,247.4 195.9,268.3 198.3,247.4 200.7,266.6 202.9,254.0 205.3,259.3 207.3,259.6 209.9,271.2 212.1,251.4 216.8,266.2 219.1,260.0 221.4,263.9 223.8,260.6 226.0,265.3 228.2,248.8 230.6,246.8 232.9,238.2 235.2,243.5 237.5,253.4 239.9,240.2 242.1,241.5 244.5,250.7 249.1,244.8 251.4,238.2 253.7,242.8 256.0,243.5 258.1,233.6 260.6,250.1 263.0,236.9 267.2,263.3 271.9,235.6 274.2,243.5 276.3,239.4 278.7,242.5 280.9,242.7 283.2,248.7 285.6,244.7 287.8,250.9 292.6,220.9 294.8,244.7 297.0,238.1 299.4,237.4 301.8,232.8 304.0,216.3 308.7,250.0 310.9,244.0 313.3,255.0 315.7,220.5 320.3,230.8 322.5,239.4 324.9,224.2 327.1,216.6 331.9,278.2 334.1,239.4 336.4,257.9 341.0,247.3 343.2,246.0 345.6,236.4 347.9,243.4 350.2,245.4 352.5,250.0 354.9,226.9 357.1,239.4 359.5,244.7 361.9,251.3 366.4,238.5 371.0,261.2 373.1,234.8 375.6,246.0 378.0,252.6 380.2,238.1 382.6,236.1 384.6,227.9 386.9,243.4 389.2,241.4 391.6,252.0 394.0,255.3 396.3,241.4 398.6,234.8 400.8,252.6 403.2,259.9 405.6,254.6 407.8,259.2 410.1,257.0 412.4,232.8 414.7,245.4 417.1,250.0 421.7,268.5 426.3,248.7 428.5,271.8 430.9,250.0 433.3,250.0 435.5,256.2 437.8,246.4 440.2,261.2 444.8,223.2 447.0,239.4 449.4,257.2 451.6,263.8 454.0,257.9 458.3,279.5 460.6,268.5 462.9,265.8 465.9,263.8 467.9,264.1 470.1,273.1 472.5,270.4 474.5,273.7 477.1,270.4 479.4,249.6 481.7,263.8 484.0,257.2 488.3,267.1 490.6,255.9 493.0,267.1 495.6,265.8 497.9,257.9 500.2,264.5 502.5,250.0 504.9,243.4 507.0,254.0 509.2,243.5 511.6,252.1 513.8,263.3 518.2,246.8 520.8,258.0 523.1,255.6 525.2,246.1 530.1,252.1 532.3,268.3 534.7,254.7 536.9,248.8 539.3,256.7"/>
<text class="ttl" x="396.5" y="27.6" font-size="18.9" font-weight="300"><tspan font-size="15.6" font-weight="400">HN</tspan>省日屠宰量</text>
<line x1="248.5" y1="430.5" x2="275.8" y2="430.5" stroke="#A5A5A5" stroke-width="1.3"/>
<text class="ax" x="280.0" y="434.3">2017</text>
<line x1="306.6" y1="430.5" x2="333.9" y2="430.5" stroke="#70AD47" stroke-width="1.3"/>
<text class="ax" x="338.1" y="434.3">2018</text>
<line x1="364.7" y1="430.5" x2="392.0" y2="430.5" stroke="#5B9BD5" stroke-width="1.3"/>
<text class="ax" x="396.2" y="434.3">2019</text>
<line x1="422.8" y1="430.5" x2="450.1" y2="430.5" stroke="#F79AC8" stroke-width="1.3"/>
<text class="ax" x="454.3" y="434.3">2020</text>
<line x1="480.9" y1="430.5" x2="508.2" y2="430.5" stroke="#FFC000" stroke-width="1.3"/>
<text class="ax" x="512.4" y="434.3">2021</text>
<line x1="539.0" y1="430.5" x2="566.3" y2="430.5" stroke="#7030A0" stroke-width="1.3"/>
<text class="ax" x="570.5" y="434.3">2022</text>
<line x1="597.1" y1="430.5" x2="624.4" y2="430.5" stroke="#C00000" stroke-width="1.3"/>
<text class="ax" x="628.6" y="434.3">2023</text>
<g fill="#fff" stroke-linejoin="round" stroke-linecap="round">
<ellipse cx="718.3" cy="408.2" rx="12.5" ry="10.5" stroke="#e4e4e4" stroke-width="0.8"/>
<path d="M707.3 416.3 L711 419.6 L709.6 422.2 L713.8 419.5 L719.2 420.6" stroke="#9a9a9a" stroke-width="0.8"/>
<ellipse cx="729.8" cy="417.1" rx="11" ry="10.2" stroke="#d0d0d0" stroke-width="0.8"/>
<path d="M731.7 407.05 A11 10.2 0 1 0 736.9 424.9 L738 428.4 L733.6 426.8" fill="none" stroke="#5a5a5a" stroke-width="0.9"/>
<path d="M736.9 424.9 A11 10.2 0 0 0 740.6 415" fill="none" stroke="#a0a0a0" stroke-width="0.8"/>
<path d="M725.5 399.5 A12.5 10.5 0 0 1 730.5 405.8" fill="none" stroke="#c4c4c4" stroke-width="0.8"/>
</g>
<rect x="713.1" y="404.3" width="1.6" height="1.4" fill="#b0b0b0"/><rect x="722.6" y="404.3" width="1.6" height="1.4" fill="#b0b0b0"/>
<rect x="725.8" y="412.8" width="1.5" height="1.4" fill="#9a9a9a"/><rect x="733.2" y="412.4" width="1.5" height="1.4" fill="#b0b0b0"/>
<text class="wm" x="748.4" y="422.8" font-size="21.9" fill="#5c5c5c">一凡帝诺维奇</text>
<text class="wm" x="747.4" y="421.8" font-size="21.9" fill="#fff">一凡帝诺维奇</text>
<rect x="0" y="0" width="909" height="2" fill="#000"/><rect x="0" y="0" width="2" height="455" fill="#000"/>
<rect x="908" y="0" width="1" height="455" fill="#000"/><rect x="0" y="453.8" width="909" height="1.2" fill="#000"/>
</svg></body></html>
